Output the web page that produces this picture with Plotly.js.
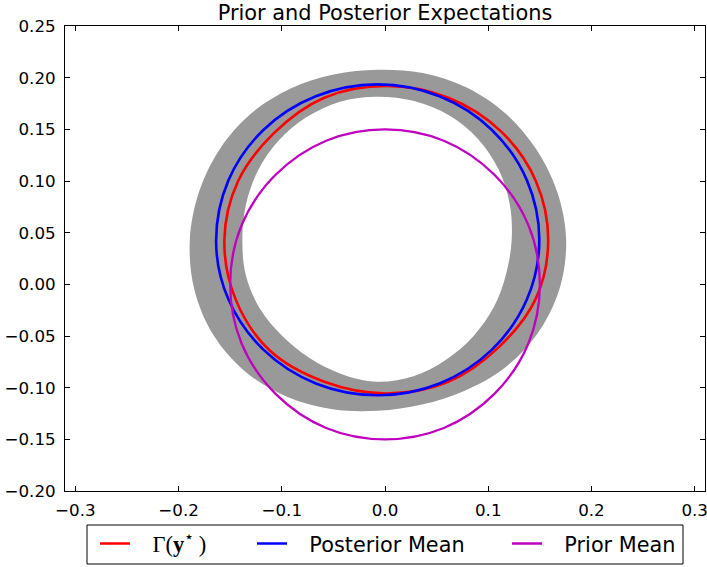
<!DOCTYPE html>
<html>
<head>
<meta charset="utf-8">
<script src="https://cdn.plot.ly/plotly-3.0.1.min.js"></script>
<style>html,body{margin:0;padding:0;background:#fff}#chart{width:707px;height:567px}</style>
</head>
<body>
<div id="chart"></div>
<script>
// ---- data ----
const xTickVals = [-0.3, -0.2, -0.1, 0.0, 0.1, 0.2, 0.3];
const yTickVals = [-0.20, -0.15, -0.10, -0.05, 0.00, 0.05, 0.10, 0.15, 0.20, 0.25];

// grey credible band: outer boundary
const bandOuterX = [0.1755, 0.1669, 0.1462, 0.1162, 0.0786, 0.0365, -0.0068, -0.0497, -0.0914, -0.1295, -0.1598, -0.1802, -0.1891, -0.1847, -0.1661, -0.1346, -0.0944, -0.0506, -0.0068, 0.0358, 0.0773, 0.1164, 0.1483, 0.1691];
const bandOuterY = [0.0428, 0.0893, 0.1312, 0.1658, 0.1907, 0.2045, 0.2077, 0.2031, 0.1895, 0.1655, 0.1312, 0.0893, 0.0428, -0.0049, -0.0492, -0.0850, -0.1091, -0.1210, -0.1224, -0.1163, -0.1029, -0.0804, -0.0468, -0.0043];
// grey credible band: inner boundary
const bandInnerX = [0.1227, 0.1209, 0.1102, 0.0901, 0.0620, 0.0283, -0.0077, -0.0436, -0.0763, -0.1035, -0.1233, -0.1348, -0.1382, -0.1348, -0.1216, -0.1000, -0.0735, -0.0424, -0.0077, 0.0275, 0.0591, 0.0854, 0.1052, 0.1171];
const bandInnerY = [0.0428, 0.0773, 0.1109, 0.1407, 0.1636, 0.1774, 0.1816, 0.1767, 0.1616, 0.1386, 0.1096, 0.0768, 0.0428, 0.0088, -0.0229, -0.0495, -0.0711, -0.0867, -0.0943, -0.0889, -0.0729, -0.0504, -0.0225, 0.0091];

// Gamma(y*)
const gammaX = [0.1581, 0.1461, 0.1121, 0.0613, 0.0013, -0.0588, -0.1076, -0.1425, -0.1556, -0.1446, -0.1116, -0.0588, 0.0013, 0.0613, 0.1105, 0.1461];
const gammaY = [0.0431, 0.1001, 0.1483, 0.1806, 0.1919, 0.1806, 0.1463, 0.0995, 0.0431, -0.0148, -0.0641, -0.0943, -0.1056, -0.0943, -0.0605, -0.0138];

// Posterior mean
const postX = [0.1495, 0.1375, 0.1036, 0.0528, -0.0071, -0.0670, -0.1178, -0.1517, -0.1636, -0.1517, -0.1178, -0.0670, -0.0071, 0.0528, 0.1036, 0.1375];
const postY = [0.0431, 0.1006, 0.1494, 0.1820, 0.1935, 0.1820, 0.1494, 0.1006, 0.0410, -0.0145, -0.0632, -0.0959, -0.1073, -0.0959, -0.0632, -0.0145];

// Prior mean
const priorX = [0.150, 0.139, 0.106, 0.057, 0.000, -0.057, -0.106, -0.139, -0.150, -0.139, -0.106, -0.057, 0.000, 0.057, 0.106, 0.139];
const priorY = [0.000, 0.057, 0.106, 0.139, 0.150, 0.139, 0.106, 0.057, 0.000, -0.057, -0.106, -0.139, -0.150, -0.139, -0.106, -0.057];

const seriesNames = ['Γ(<b>y</b><sup>⋆</sup>&#8201;)', 'Posterior Mean', 'Prior Mean'];

// ---- helpers ----
function closed(a) { return a.concat([a[0]]); }
const FONT = 'DejaVu Sans, sans-serif';
const NB = '&nbsp;&nbsp;&#8201;';

const traces = [
  { x: closed(bandOuterX), y: closed(bandOuterY), mode: 'lines', fill: 'toself',
    fillcolor: '#999999', line: { width: 0, color: 'rgba(0,0,0,0)', shape: 'spline' },
    showlegend: false, hoverinfo: 'skip' },
  { x: closed(bandInnerX), y: closed(bandInnerY), mode: 'lines', fill: 'toself',
    fillcolor: '#ffffff', line: { width: 0, color: 'rgba(0,0,0,0)', shape: 'spline' },
    showlegend: false, hoverinfo: 'skip' },
  { x: closed(gammaX), y: closed(gammaY), mode: 'lines', name: NB + '<span style="font-family:Liberation Serif;font-size:22.5px">' + seriesNames[0] + '</span>',
    line: { color: '#ff0000', width: 2.6, shape: 'spline' }, legend: 'legend' },
  { x: closed(postX), y: closed(postY), mode: 'lines', name: NB + seriesNames[1],
    line: { color: '#0000ff', width: 2.6, shape: 'spline' }, legend: 'legend2' },
  { x: closed(priorX), y: closed(priorY), mode: 'lines', name: NB + seriesNames[2],
    line: { color: '#bf00bf', width: 2.3, shape: 'spline' }, legend: 'legend3' }
];

const legendBase = {
  xref: 'container', yref: 'container', xanchor: 'left', yanchor: 'middle',
  y: 1 - 544 / 567, bgcolor: 'rgba(0,0,0,0)', borderwidth: 0,
  font: { family: FONT, size: 20.8, color: '#000' }
};

const axisBase = {
  showgrid: false, zeroline: false, showline: true, linecolor: '#000', linewidth: 1,
  mirror: 'ticks', ticks: 'inside', ticklen: 5, tickwidth: 1, tickcolor: '#000',
  tickfont: { family: FONT, size: 16.7, color: '#000' }, automargin: false,
  ticklabeloverflow: 'allow'
};

const layout = {
  width: 707, height: 567,
  margin: { l: 65, r: 2, t: 26, b: 76, autoexpand: false },
  paper_bgcolor: '#fff', plot_bgcolor: '#fff',
  title: { text: 'Prior and Posterior Expectations', font: { family: FONT, size: 20.9, color: '#000' },
           x: 0.5, xref: 'paper', xanchor: 'center', y: 1 - 19.7 / 567, yref: 'container', yanchor: 'bottom' },
  xaxis: Object.assign({}, axisBase, { range: [-0.31, 0.31], tickvals: xTickVals, tickformat: '.1f', ticklabelstandoff: 4 }),
  yaxis: Object.assign({}, axisBase, { range: [-0.20, 0.25], tickvals: yTickVals, tickformat: '.2f', ticklabelstandoff: 5 }),
  legend: Object.assign({}, legendBase, { x: 95 / 707 }),
  legend2: Object.assign({}, legendBase, { x: 252 / 707 }),
  legend3: Object.assign({}, legendBase, { x: 507 / 707 }),
  shapes: [{ type: 'rect', xref: 'paper', yref: 'paper',
             x0: (87 - 65) / 640, x1: (683 - 65) / 640, y0: -(564 - 491) / 465, y1: -(525 - 491) / 465,
             line: { color: '#000', width: 1 }, fillcolor: 'rgba(0,0,0,0)', layer: 'above' }],
  showlegend: true
};

Plotly.newPlot('chart', traces, layout, { displayModeBar: false, staticPlot: true });
</script>
</body>
</html>
